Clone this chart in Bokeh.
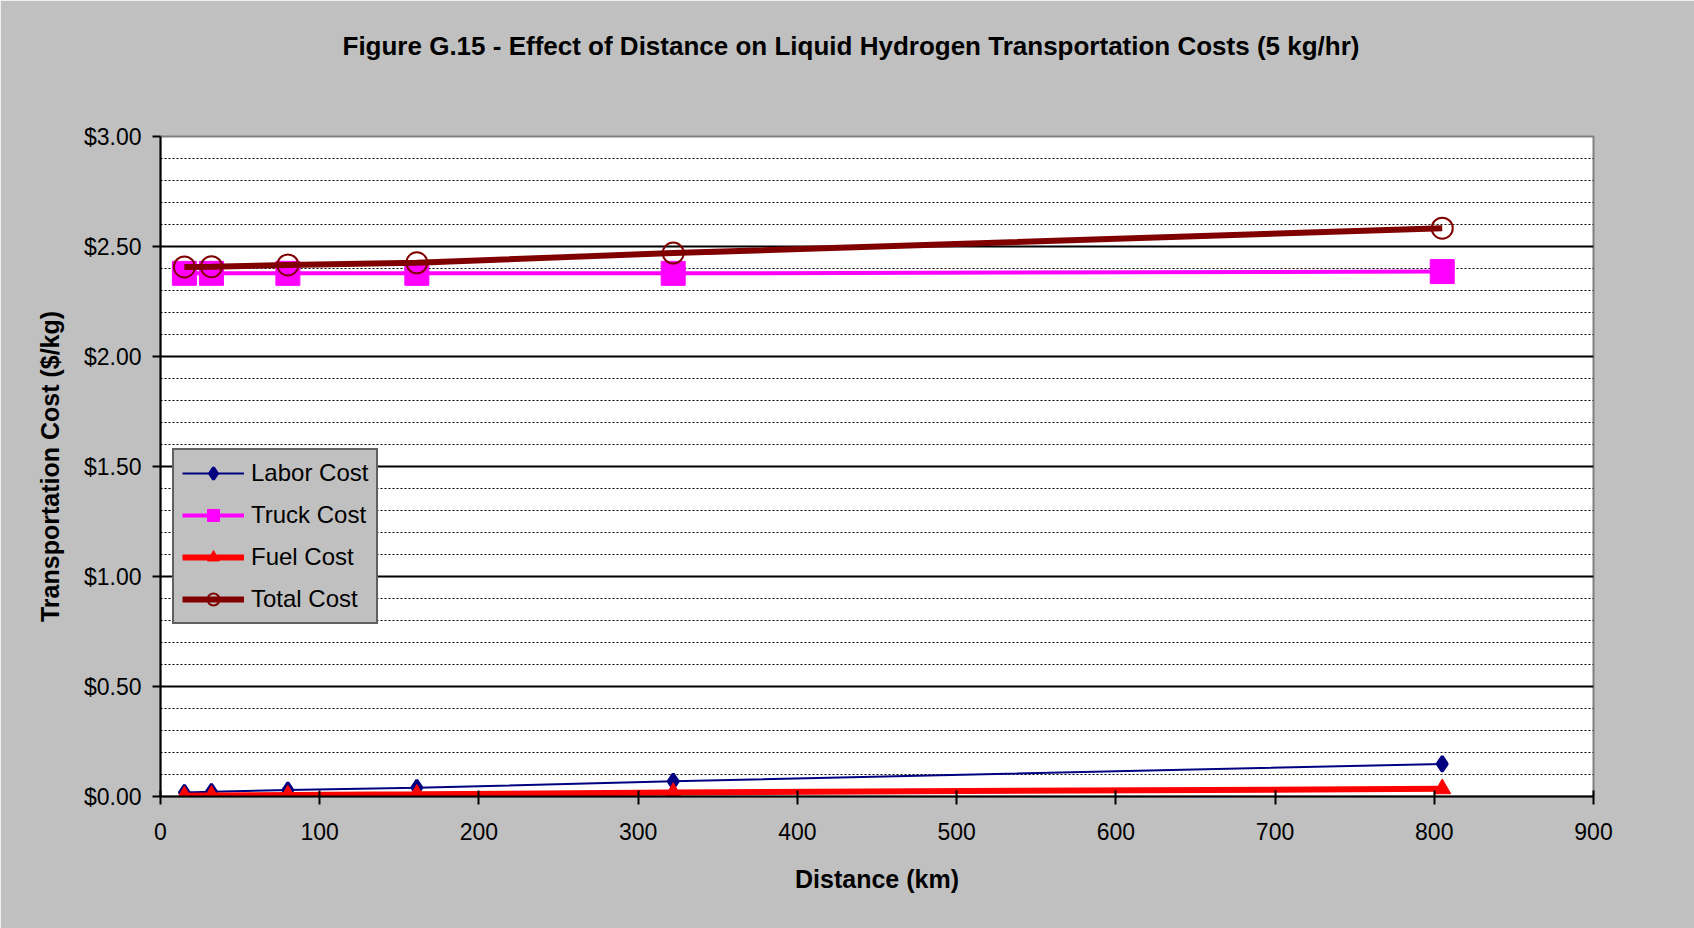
from bokeh.plotting import figure
from bokeh.models import (Range1d, SingleIntervalTicker, NumeralTickFormatter, Legend,
                          LegendItem, Title)
from bokeh.embed import file_html
from bokeh.resources import INLINE

distance = [15, 32, 80, 161, 322, 805]
labor = [0.018, 0.022, 0.029, 0.040, 0.069, 0.148]
truck = [2.378, 2.378, 2.378, 2.378, 2.378, 2.386]
fuel = [0.003, 0.005, 0.007, 0.010, 0.018, 0.035]
total = [2.407, 2.408, 2.416, 2.426, 2.470, 2.583]

title_text = "Figure G.15 - Effect of Distance on Liquid Hydrogen Transportation Costs (5 kg/hr)"

FONT = "Liberation Sans"

p = figure(width=1694, height=928, output_backend="svg", toolbar_location=None,
           x_range=Range1d(0, 900), y_range=Range1d(0, 3),
           min_border_left=160, min_border_right=101, min_border_top=136, min_border_bottom=132)
p.border_fill_color = "#c0c0c0"
p.background_fill_color = "white"
p.outline_line_color = "#808080"
p.outline_line_width = 2

# spacer between title and plot frame
p.add_layout(Title(text=" ", text_font_size="10px", standoff=63), "above")

p.title.text = title_text
p.title.text_font = FONT
p.title.text_font_size = "26px"
p.title.text_font_style = "bold"
p.title.text_color = "black"
p.title.align = "left"
p.title.offset = 182
p.title.standoff = 0

# axes
p.xaxis.ticker = SingleIntervalTicker(interval=100, num_minor_ticks=0)
p.yaxis.ticker = SingleIntervalTicker(interval=0.5, num_minor_ticks=5)
p.yaxis.formatter = NumeralTickFormatter(format="$0.00")
for ax in (p.xaxis[0], p.yaxis[0]):
    ax.axis_line_color = "black"
    ax.axis_line_width = 2
    ax.major_tick_line_color = "black"
    ax.major_tick_line_width = 2
    ax.major_tick_out = 8
    ax.minor_tick_line_color = None
    ax.major_label_text_font = FONT
    ax.major_label_text_font_size = "23px"
    ax.major_label_text_color = "black"
    ax.axis_label_text_font = FONT
    ax.axis_label_text_font_size = "25px"
    ax.axis_label_text_font_style = "bold"
    ax.axis_label_text_color = "black"
p.xaxis.major_tick_in = 6
p.yaxis.major_tick_in = 0
p.xaxis.major_label_standoff = 18
p.yaxis.major_label_standoff = 11
p.xaxis.axis_label = "Distance (km)"
p.yaxis.axis_label = "Transportation Cost ($/kg)"
p.xaxis.axis_label_standoff = 22
p.yaxis.axis_label_standoff = 17

p.xgrid.grid_line_color = None
p.ygrid.grid_line_color = "black"
p.ygrid.grid_line_width = 2
p.ygrid.minor_grid_line_color = "black"
p.ygrid.minor_grid_line_width = 1.2
p.ygrid.minor_grid_line_dash = "2 2"

# series
l1 = p.line(distance, labor, line_color="#000080", line_width=2)
m1 = p.scatter(distance, labor, marker="diamond", size=15, line_width=3,
               fill_color="#000080", line_color="#000080")
l2 = p.line(distance, truck, line_color="#ff00ff", line_width=4)
m2 = p.scatter(distance, truck, marker="square", size=24,
               fill_color="#ff00ff", line_color="#ff00ff")
l3 = p.line(distance, fuel, line_color="#ff0000", line_width=6)
m3 = p.scatter(distance, fuel, marker="triangle", size=17,
               fill_color="#ff0000", line_color="#ff0000")
l4 = p.line(distance, total, line_color="#800000", line_width=6)
m4 = p.scatter(distance, total, marker="circle", size=21, fill_color=None,
               line_color="#800000", line_width=2)

legend = Legend(items=[
    LegendItem(label="Labor Cost", renderers=[l1, m1]),
    LegendItem(label="Truck Cost", renderers=[l2, m2]),
    LegendItem(label="Fuel Cost", renderers=[l3, m3]),
    LegendItem(label="Total Cost", renderers=[l4, m4]),
], location=(12, 172))
legend.background_fill_color = "#c0c0c0"
legend.background_fill_alpha = 1
legend.border_line_color = "black"
legend.border_line_width = 2
legend.label_text_font = FONT
legend.label_text_font_size = "24px"
legend.label_text_color = "black"
legend.glyph_width = 62
legend.glyph_height = 30
legend.label_height = 30
legend.label_standoff = 7
legend.spacing = 12
legend.padding = 8
legend.margin = 0
p.add_layout(legend, "center")

open("out.html", "w").write(file_html(p, INLINE))
